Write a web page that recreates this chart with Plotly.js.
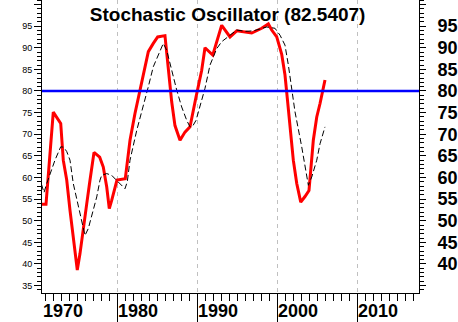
<!DOCTYPE html>
<html>
<head>
<meta charset="utf-8">
<script src="https://cdn.plot.ly/plotly-3.0.1.min.js"></script>
<style>html,body{margin:0;padding:0;background:#fff;}#chart{width:458px;height:322px;}</style>
</head>
<body>
<div id="chart"></div>
<script>
// %K (red) – decimal year / value
const kYears = [1970.59,1971.09,1972.00,1972.59,1972.93,1973.25,1973.68,1974.09,1974.50,1975.00,
  1975.34,1975.75,1976.18,1976.59,1977.09,1977.80,1978.25,1978.68,1979.00,1979.30,1979.71,1979.96,
  1981.00,1981.34,1981.59,1982.21,1982.75,1983.25,1983.88,1984.50,1985.05,1985.96,1986.34,1986.80,
  1987.21,1987.84,1988.46,1989.09,1989.84,1990.55,1990.96,1991.93,1993.05,1994.09,1994.93,1995.75,
  1996.80,1998.05,1998.88,1999.30,1999.93,2000.55,2000.96,2001.25,2001.59,2002.00,2002.43,2002.93,
  2003.46,2003.96,2004.18,2004.50,2004.93,2005.34,2005.96];
const kValues = [53.8,53.8,75.1,73.6,72.5,64.0,59.4,52.4,45.5,38.6,
  42.4,48.5,53.9,59.4,65.8,64.7,62.4,57.8,52.8,54.7,57.8,59.4,
  59.7,65.1,68.6,74.8,79.4,84.0,89.1,91.0,92.5,92.8,86.0,77.5,
  72.0,68.6,70.5,71.7,78.6,84.8,90.0,88.3,95.2,92.5,93.9,93.7,
  93.4,94.5,95.5,94.1,92.5,88.5,83.7,78.3,71.7,64.0,58.6,54.3,
  55.6,57.0,61.7,68.6,74.0,77.1,82.5407];

// %D (black dashed)
const dYears = [1970.53,1970.84,1971.18,1971.80,1972.21,1972.93,1973.30,1973.68,1974.09,1974.50,
  1975.13,1975.55,1975.96,1976.38,1977.00,1977.43,1977.84,1978.05,1978.68,1979.30,1979.88,1980.34,
  1980.96,1981.25,1981.59,1982.43,1983.25,1983.88,1984.50,1985.25,1985.75,1986.18,1986.80,1987.43,
  1988.05,1988.68,1989.09,1989.46,1989.84,1990.55,1990.96,1991.59,1992.43,1993.05,1994.09,1994.93,
  1995.96,1997.00,1998.68,1999.71,2000.34,2000.96,2001.38,2001.80,2002.21,2003.05,2003.46,2003.88,
  2004.30,2004.93,2005.34,2005.96];
const dValues = [58.4,56.5,58.6,61.7,64.0,67.1,67.0,66.0,64.0,58.6,
  53.2,49.3,46.6,48.2,52.4,55.5,59.4,60.5,60.9,60.5,59.4,58.5,
  57.4,59.0,64.0,70.9,76.3,81.0,85.6,88.7,91.0,89.4,84.8,80.2,
  76.3,73.2,71.7,72.0,73.2,77.9,80.6,86.0,89.8,91.4,92.9,94.1,
  93.8,93.9,94.8,94.5,92.9,90.6,86.0,80.6,75.2,67.1,62.4,58.2,
  60.1,64.0,67.8,71.7];

const levelLine = 80;
const xRange = [1970.59, 2017.71];
const yRange = [33.29, 101.04];
const yTickVals = [35,40,45,50,55,60,65,70,75,80,85,90,95,100];
const yLeftText = ['35','40','45','50','55','60','65','70','75','80','85','90','95',''];
const yRightText = ['','40','45','50','55','60','65','70','75','80','85','90','95',''];
const xLabelYears = [1970,1980,1990,2000,2010];
const xLabelText = ['1970','1980','1990','2000','2010'];

const lastK = kValues[kValues.length-1];
const FONT = 'Liberation Sans, Arial, sans-serif';

const traces = [
  {x:kYears, y:kValues, type:'scatter', mode:'lines', line:{color:'#ff0000', width:3}, hoverinfo:'skip'},
  {x:dYears, y:dValues, type:'scatter', mode:'lines', line:{color:'#000000', width:1, dash:'6px,3px'}, hoverinfo:'skip'},
  {x:[xRange[0]], y:[null], yaxis:'y2', type:'scatter', mode:'lines', hoverinfo:'skip', showlegend:false}
];

const annotations = xLabelYears.map((yr,i)=>({
  x: Math.max(yr, xRange[0]), xref:'x', xanchor:'left', xshift:0,
  y: 0, yref:'paper', yanchor:'top', yshift:-7, borderpad:0,
  text: xLabelText[i], showarrow:false,
  font:{family:FONT, size:18, weight:'bold', color:'#000'}
}));

const commonY = {
  range:yRange, tickmode:'array', tickvals:yTickVals, ticks:'outside', tickcolor:'#000', tickwidth:1,
  showline:true, linecolor:'#000', linewidth:1, showgrid:false, zeroline:false, fixedrange:true,
  minor:{tick0:35, dtick:1, ticks:'outside', ticklen:4, tickcolor:'#000', tickwidth:1, showgrid:false}
};

const layout = {
  width:458, height:322,
  margin:{l:42, r:39, t:0, b:29, pad:0},
  paper_bgcolor:'#ffffff', plot_bgcolor:'#ffffff',
  showlegend:false,
  title:{text:'Stochastic Oscillator (' + lastK.toFixed(4) + ')', x:0.497, xanchor:'center', xref:'container',
    y:1-14/322, yanchor:'middle', yref:'container',
    font:{family:FONT, size:19, weight:'bold', color:'#000'}},
  xaxis:{range:xRange, tickmode:'linear', tick0:1970, dtick:10, ticks:'outside', ticklen:30, tickcolor:'#000',
    showticklabels:false, showgrid:true, gridcolor:'#c0c0c0', griddash:'4px,4px', gridwidth:1,
    showline:true, linecolor:'#000', linewidth:1, zeroline:false, fixedrange:true,
    minor:{tick0:1970, dtick:1, ticks:'outside', ticklen:7, tickcolor:'#000', tickwidth:1, showgrid:false}},
  yaxis:Object.assign({}, commonY, {ticktext:yLeftText, ticklen:7, side:'left',
    tickfont:{family:FONT, size:9, color:'#000'}}),
  yaxis2:Object.assign({}, commonY, {ticktext:yRightText, ticklen:6, side:'right', overlaying:'y', anchor:'x',
    ticklabelstandoff:8, tickfont:{family:FONT, size:18, weight:'bold', color:'#000'}}),
  shapes:[{type:'line', xref:'paper', x0:0, x1:1, yref:'y', y0:levelLine, y1:levelLine,
    line:{color:'#0000ff', width:2.5}, layer:'above'}],
  annotations:annotations
};

Plotly.newPlot('chart', traces, layout, {staticPlot:true, displayModeBar:false});
</script>
</body>
</html>
